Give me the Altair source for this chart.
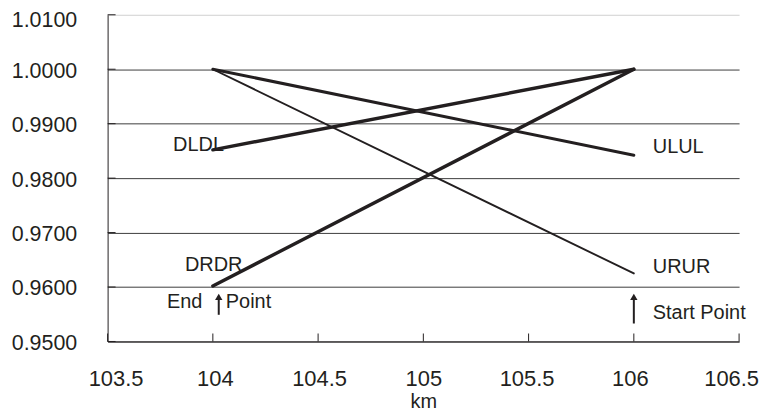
import altair as alt
import pandas as pd

# ---- data ----
series = ["DLDL", "ULUL", "DRDR", "URUR"]
x_points = [104, 106]
dldl = [0.9852, 1.0000]
ulul = [1.0000, 0.9842]
drdr = [0.9602, 1.0000]
urur = [1.0000, 0.9625]
line_widths = [3.4, 3.0, 3.4, 1.9]

x_ticks = [103.5, 104, 104.5, 105, 105.5, 106, 106.5]
y_ticks = [0.95, 0.96, 0.97, 0.98, 0.99, 1.00, 1.01]

label_text = ["DLDL", "ULUL", "DRDR", "URUR", "End", "Point", "Start Point"]
label_x = [103.811, 106.09, 103.8675, 106.09, 103.782, 104.0615, 106.09]
label_y = [0.9860, 0.9858, 0.9640, 0.9637, 0.9573, 0.9573, 0.9553]

arrow_x = [104.028, 106.0]
arrow_bottom = [0.9549, 0.9533]
arrow_head = [0.9582, 0.9582]

INK = "#231f20"
FONT = "Liberation Sans"
W, H = 634, 328

labels_df = pd.DataFrame({"text": label_text, "km": label_x, "value": label_y})
arrows_df = pd.DataFrame({"km": arrow_x, "bottom": arrow_bottom, "head": arrow_head})
xt_df = pd.DataFrame({"km": x_ticks})
yt_df = pd.DataFrame({"value": y_ticks})

xscale = alt.Scale(domain=[103.5, 106.5], nice=False, zero=False)
yscale = alt.Scale(domain=[0.95, 1.01], nice=False, zero=False)

x_label_shift = {"condition": [
    {"test": "datum.value < 103.75", "value": 8},
    {"test": "datum.value < 104.25", "value": 2},
    {"test": "datum.value < 104.75", "value": 1},
    {"test": "datum.value > 106.25", "value": -8},
    {"test": "datum.value > 105.75", "value": -4},
    {"test": "datum.value > 105.25", "value": -2},
], "value": 0}

y_label_shift = {"condition": {"test": "datum.value > 1.005", "value": 6}, "value": 2}

xaxis = alt.Axis(values=x_ticks, format="~g", title="km", grid=False, ticks=False, tickSize=0,
                 labelPadding=27, labelFontSize=22, labelFont=FONT, labelColor=INK,
                 labelOffset=x_label_shift,
                 titleFont=FONT, titleFontSize=20, titleFontWeight="normal", titleColor=INK,
                 titlePadding=2, domainColor=INK, domainWidth=1, labelFlush=False)
yaxis = alt.Axis(values=y_ticks, format=".4f", title=None, grid=True, ticks=False, tickSize=0,
                 labelPadding=31, labelFontSize=21.5, labelFont=FONT, labelColor=INK,
                 labelOffset=y_label_shift,
                 domainColor=INK, domainWidth=1, labelFlush=False,
                 gridColor={"condition": {"test": "datum.value > 1.005", "value": "#d0d0d0"},
                            "value": "#3c3c3c"},
                 gridWidth=1)


def X(field):
    return alt.X(field, scale=xscale, axis=xaxis)


def Y(field):
    return alt.Y(field, scale=yscale, axis=yaxis)


line_layers = []
for i, vals in enumerate([dldl, ulul, drdr, urur]):
    df = pd.DataFrame({"km": x_points, "value": vals})
    line_layers.append(
        alt.Chart(df).mark_line(color=INK, strokeWidth=line_widths[i], strokeCap="round").encode(
            x=X("km:Q"), y=Y("value:Q"))
    )

xticks = alt.Chart(xt_df).mark_rule(color=INK, strokeWidth=1).encode(
    x=X("km:Q"), y=alt.value(H), y2=alt.value(H - 8))
yticks = alt.Chart(yt_df).mark_rule(color=INK, strokeWidth=1).encode(
    y=Y("value:Q"), x=alt.value(0), x2=alt.value(8))

texts = alt.Chart(labels_df).mark_text(
    align="left", baseline="middle", font=FONT, fontSize=20, color=INK
).encode(x=X("km:Q"), y=Y("value:Q"), text="text:N")

arrow_shaft = alt.Chart(arrows_df).mark_rule(color=INK, strokeWidth=2).encode(
    x=X("km:Q"), y=Y("bottom:Q"), y2="head:Q")
arrow_tip = alt.Chart(arrows_df).mark_point(shape="triangle-up", filled=True, color=INK, size=55, opacity=1).encode(
    x=X("km:Q"), y=Y("head:Q"))

chart = alt.layer(texts, *line_layers, xticks, yticks, arrow_shaft, arrow_tip).properties(
    width=W, height=H,
    autosize=alt.AutoSizeParams(type="none"),
    padding={"left": 100, "top": 6, "right": 20, "bottom": 70},
    background="white",
).configure_view(stroke=None)

chart.save("out.html", embed_options={"renderer": "svg", "actions": False})
